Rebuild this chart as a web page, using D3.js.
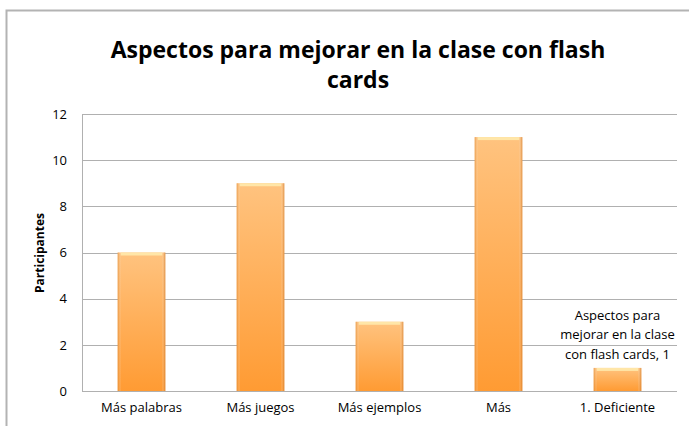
<!DOCTYPE html>
<html><head><meta charset="utf-8">
<script src="https://cdn.jsdelivr.net/npm/d3@7"></script>
<style>body{margin:0;background:#fff}svg{display:block}</style>
</head><body>
<svg id="c" width="689" height="426"></svg>
<script>
const categories = ["Más palabras","Más juegos","Más ejemplos","Más","1. Deficiente"];
const values = [6, 9, 3, 11, 1];
const yTicks = [0, 2, 4, 6, 8, 10, 12];
const titleLines = ["Aspectos para mejorar en la clase con flash", "cards"];
const yTitle = "Participantes";
const labelLines = ["Aspectos para", "mejorar en la clase", "con flash cards, 1"];
const labelIndex = 4;

const svg = d3.select("#c");
const font = "'Open Sans', 'Liberation Sans', sans-serif";
const m = {l: 82, r: 677, t: 114, b: 391};

// outer frame
svg.append("path").attr("d", "M6.5,426 L6.5,10.5 L689,10.5").attr("fill","none").attr("stroke","#b3b3b3").attr("stroke-width",2);

const defs = svg.append("defs");
const g1 = defs.append("linearGradient").attr("id","barG").attr("x1",0).attr("y1",0).attr("x2",0).attr("y2",1);
g1.append("stop").attr("offset","0%").attr("stop-color","#ffc37f");
g1.append("stop").attr("offset","100%").attr("stop-color","#ff9b33");
const g2 = defs.append("linearGradient").attr("id","barH").attr("x1",0).attr("y1",0).attr("x2",1).attr("y2",0);
g2.append("stop").attr("offset","0%").attr("stop-color","#d87818").attr("stop-opacity",0.55);
g2.append("stop").attr("offset","8%").attr("stop-color","#ffffff").attr("stop-opacity",0);
g2.append("stop").attr("offset","92%").attr("stop-color","#ffffff").attr("stop-opacity",0);
g2.append("stop").attr("offset","100%").attr("stop-color","#c86810").attr("stop-opacity",0.6);

const x = d3.scaleBand().domain(categories).range([m.l, m.r]).paddingInner(0.6).paddingOuter(0.3);
const y = d3.scaleLinear().domain([0, 12]).range([m.b, m.t]);

// gridlines
svg.append("g").selectAll("line").data(yTicks).join("line")
  .attr("x1", m.l).attr("x2", m.r)
  .attr("y1", d => Math.round(y(d))+0.5).attr("y2", d => Math.round(y(d))+0.5)
  .attr("stroke", "#b0b0b0").attr("stroke-width", 1);

// y axis line
svg.append("line").attr("x1", m.l+0.5).attr("x2", m.l+0.5).attr("y1", m.t).attr("y2", m.b+0.5).attr("stroke","#b0b0b0");

// y axis
const yAxis = svg.append("g").attr("transform", `translate(${m.l},0)`)
  .call(d3.axisLeft(y).tickValues(yTicks).tickSize(0).tickPadding(15));
yAxis.select(".domain").remove();
yAxis.selectAll("text").attr("font-family", font).attr("font-size", 13).attr("fill","#000");

// x axis labels
const xAxis = svg.append("g").attr("transform", `translate(0,${m.b})`)
  .call(d3.axisBottom(x).tickSize(0).tickPadding(12));
xAxis.select(".domain").remove();
xAxis.selectAll("text").attr("font-family", font).attr("font-size", 13).attr("fill","#000");

// bars
const bars = svg.append("g").selectAll("g").data(values).join("g");
bars.append("rect")
  .attr("x", (d,i) => x(categories[i])).attr("width", x.bandwidth())
  .attr("y", d => y(d)).attr("height", d => y(0) - y(d))
  .attr("fill", "url(#barG)");
bars.append("rect")
  .attr("x", (d,i) => x(categories[i])).attr("width", x.bandwidth())
  .attr("y", d => y(d)).attr("height", d => y(0) - y(d))
  .attr("fill", "url(#barH)");
bars.append("rect")
  .attr("x", (d,i) => x(categories[i]) + 3).attr("width", x.bandwidth() - 6)
  .attr("y", d => y(d)).attr("height", 3)
  .attr("fill", "#ffe6a8");

// data label
const lbl = svg.append("text").attr("font-family", font).attr("font-size", 13).attr("fill","#000")
  .attr("text-anchor","middle");
labelLines.forEach((t,i) => {
  lbl.append("tspan").attr("x", x(categories[labelIndex]) + x.bandwidth()/2)
    .attr("y", y(values[labelIndex]) - 48 + i*19.5).text(t);
});

// title
const title = svg.append("text").attr("font-family", font).attr("font-size", 23).attr("font-weight", 700)
  .attr("text-anchor","middle").attr("fill","#000");
titleLines.forEach((t,i) => {
  title.append("tspan").attr("x", 358).attr("y", 58 + i*30).text(t);
});

// y title
svg.append("text").attr("transform", "translate(44,253) rotate(-90)")
  .attr("text-anchor","middle").attr("font-family", font).attr("font-size", 12).attr("font-weight", 700)
  .text(yTitle);
</script>
</body></html>
